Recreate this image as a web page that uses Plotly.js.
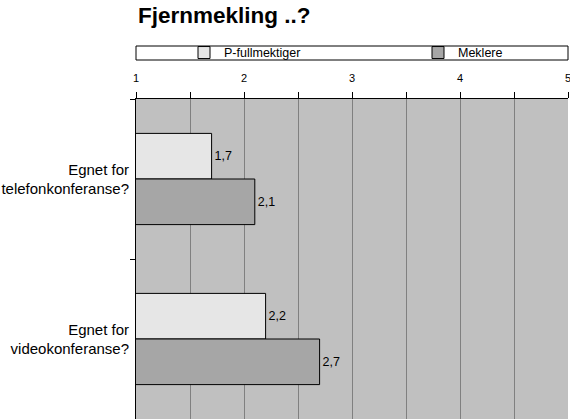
<!DOCTYPE html>
<html>
<head>
<meta charset="utf-8">
<script src="https://cdn.plot.ly/plotly-3.0.1.min.js"></script>
<style>
html,body{margin:0;padding:0;background:#fff;}
#chart{width:570px;height:420px;}
</style>
</head>
<body>
<div id="chart"></div>
<script>
const categories=["Egnet for<br>telefonkonferanse?","Egnet for<br>videokonferanse?"];
const fullmektiger=[1.7,2.2];
const meklere=[2.1,2.7];
const xTicks=[1,2,3,4,5];

const config={responsive:false,displayModeBar:false};

const traceP={
    y:categories,
    x:fullmektiger,
    name:"P-fullmektiger",
    type:"bar",
    orientation:"h",
    legend:"legend",
    texttemplate:"%{x:.1f}",
    textposition:"outside",
    cliponaxis:false,
    textfont:{size:12.5,color:"#000"},
    marker:{color:"#e6e6e6",line:{color:"#000",width:1}}
};

const traceM={
    y:categories,
    x:meklere,
    name:"Meklere",
    type:"bar",
    orientation:"h",
    legend:"legend2",
    texttemplate:"%{x:.1f}",
    textposition:"outside",
    cliponaxis:false,
    textfont:{size:12.5,color:"#000"},
    marker:{color:"#a6a6a6",line:{color:"#000",width:1}}
};

// legend look shared by both legend boxes
const legendStyle={
    orientation:"h",
    xanchor:"left",
    y:1.144,yanchor:"middle",
    bgcolor:"rgba(0,0,0,0)",
    borderwidth:0,
    font:{size:12.5,color:"#000"}
};

const layout={
    width:570,
    height:420,
    separators:", ",
    font:{family:"Liberation Sans, Arial, sans-serif",color:"#000"},
    paper_bgcolor:"#fff",
    plot_bgcolor:"#c0c0c0",
    margin:{l:136,r:2,t:99,b:1,pad:0},
    barmode:"group",
    bargap:0.43,
    bargroupgap:0,
    title:{
        text:"<b>Fjernmekling ..?</b>",
        font:{size:22.5,color:"#000"},
        xref:"container",yref:"container",
        x:138/570,xanchor:"left",
        y:1-15/420,yanchor:"middle"
    },
    showlegend:true,
    legend:Object.assign({},legendStyle,{x:(184-136)/432}),
    legend2:Object.assign({},legendStyle,{x:(418-136)/432}),
    shapes:[{
        type:"rect",xref:"paper",yref:"paper",
        x0:0,x1:1,y0:(419-60)/320,y1:(419-46)/320,
        line:{color:"#000",width:1},
        fillcolor:"rgba(0,0,0,0)",
        layer:"below"
    }],
    xaxis:{
        side:"top",
        range:[1,5],
        tickvals:xTicks,
        ticktext:xTicks.map(String),
        tickfont:{size:11,color:"#000"},
        ticklabeloverflow:"allow",
        ticklabelstandoff:6,
        ticks:"outside",
        ticklen:6,
        tickcolor:"#000",
        showgrid:true,
        gridcolor:"#808080",
        gridwidth:1,
        minor:{dtick:0.5,showgrid:true,gridcolor:"#808080",ticks:"outside",ticklen:6,tickcolor:"#000"},
        showline:true,
        linecolor:"#000",
        linewidth:1,
        zeroline:false,
        fixedrange:true
    },
    yaxis:{
        type:"category",
        autorange:"reversed",
        tickson:"boundaries",
        ticks:"outside",
        ticklen:5,
        tickcolor:"#000",
        tickfont:{size:15,color:"#000"},
        ticklabelstandoff:3,
        showline:true,
        linecolor:"#000",
        linewidth:1,
        showgrid:false,
        fixedrange:true
    }
};

Plotly.newPlot("chart",[traceP,traceM],layout,config);
</script>
</body>
</html>
